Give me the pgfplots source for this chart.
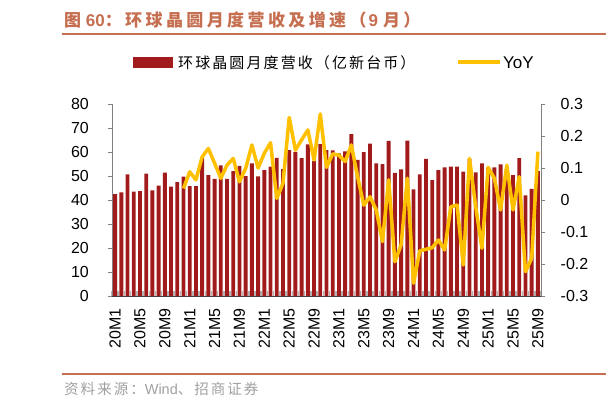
\documentclass[border=0pt]{standalone}
\usepackage{pgfplots}
\usepackage{pgfplotstable}
\pgfplotsset{compat=1.18}
\usepackage{fontspec}
\setmainfont{Liberation Sans}
\newfontfamily\cjk{Noto Sans CJK SC}
\newfontfamily\cjkt{Noto Sans CJK SC}[LetterSpace=20]
\newfontfamily\cjkl{Noto Sans CJK SC}[LetterSpace=14]
\definecolor{barred}{RGB}{162,27,28}
\definecolor{yoy}{RGB}{255,192,0}
\definecolor{titlec}{RGB}{197,110,80}
\definecolor{srcgray}{RGB}{160,160,160}

\pgfplotstableread{
x y
0 42.4
1 43.2
2 50.7
3 43.5
4 43.7
5 51.0
6 44.0
7 46.0
8 51.4
9 45.6
10 47.4
11 49.7
12 45.8
13 45.8
14 57.4
15 50.4
16 48.8
17 54.4
18 48.8
19 52.0
20 54.2
21 50.0
22 55.3
23 49.8
24 52.5
25 53.9
26 57.6
27 52.9
28 60.8
29 60.1
30 57.4
31 63.2
32 56.3
33 63.3
34 60.8
35 60.7
36 59.4
37 60.3
38 67.5
39 56.7
40 60.0
41 63.5
42 55.3
43 55.0
44 64.6
45 51.3
46 52.8
47 64.7
48 44.4
49 50.7
50 57.1
51 48.3
52 52.4
53 53.6
54 53.9
55 53.9
56 51.8
57 57.0
58 51.5
59 55.3
60 53.5
61 53.6
62 54.8
63 53.0
64 50.4
65 57.4
66 41.9
67 44.6
68 52.0
}\revtable

\pgfplotstableread{
x y
11 0.036
12 0.088
13 0.063
14 0.135
15 0.161
16 0.115
17 0.068
18 0.109
19 0.130
20 0.057
21 0.099
22 0.172
23 0.100
24 0.146
25 0.179
26 0.005
27 0.052
28 0.258
29 0.156
30 0.188
31 0.219
32 0.125
33 0.269
34 0.102
35 0.144
36 0.140
37 0.120
38 0.172
39 0.073
40 -0.016
41 0.010
42 -0.031
43 -0.130
44 0.063
45 -0.193
46 -0.140
47 0.068
48 -0.260
49 -0.159
50 -0.154
51 -0.149
52 -0.125
53 -0.156
54 -0.021
55 -0.016
56 -0.203
57 0.130
58 -0.021
59 -0.151
60 0.102
61 0.068
62 -0.031
63 0.109
64 -0.031
65 0.073
66 -0.224
67 -0.182
68 0.151
}\yoytable

\begin{document}
\begin{tikzpicture}[x=1pt,y=1pt]
\useasboundingbox (0,0) rectangle (606,-407);

% title
\node[anchor=west, inner sep=0pt, text=titlec] at (64,-20) {\bfseries\fontsize{17}{17}\selectfont {\cjkt 图} 60{\cjkt ：环球晶圆月度营收及增速（}\hspace{2pt}9\hspace{5pt}{\cjkt 月）}};
\draw[titlec, line width=2pt] (62,-34) -- (606,-34);

% legend
\fill[barred] (133,-57) rectangle (173,-68);
\node[anchor=west, inner sep=0pt] at (178,-62.5) {\cjkl\fontsize{15}{15}\selectfont 环球晶圆月度营收（亿新台币）};
\draw[yoy, line width=4pt] (458,-62.3) -- (500,-62.3);
\node[anchor=west, inner sep=0pt] at (503,-62.5) {\fontsize{17}{17}\selectfont YoY};

\begin{axis}[
  at={(112pt,-296pt)}, anchor=south west,
  scale only axis, width=429pt, height=192pt,
  xmin=-0.5, xmax=68.5, ymin=0, ymax=80,
  axis x line*=bottom, axis y line*=left,
  x axis line style={black!75, line width=0.8pt},
  y axis line style={gray, line width=0.8pt},
  xtick={0,4,...,68},
  xticklabels={20M1,20M5,20M9,21M1,21M5,21M9,22M1,22M5,22M9,23M1,23M5,23M9,24M1,24M5,24M9,25M1,25M5,25M9},
  minor xtick={-0.5,0.5,...,68.5},
  major x tick style={draw=none},
  minor x tick style={gray!60, line width=1.5pt},
  minor tick length=5pt,
  xtick align=inside,
  ytick align=outside,
  ytick={0,10,...,80},
  ytick style={gray, line width=0.8pt},
  major tick length=4pt,
  tick label style={font=\fontsize{16}{16}\selectfont},
  /pgf/number format/assume math mode=true,
  yticklabel style={anchor=east, inner sep=0pt, xshift=-19pt},
  xticklabel style={rotate=90, anchor=east, inner sep=0pt},
  xticklabel shift=12pt,
  clip=false,
]
\addplot[ybar, bar width=0.62, fill=barred, draw=none] table {\revtable};
\end{axis}

\begin{axis}[
  at={(112pt,-296pt)}, anchor=south west,
  scale only axis, width=429pt, height=192pt,
  xmin=-0.5, xmax=68.5, ymin=-0.3, ymax=0.3,
  axis x line=none, axis y line*=right,
  y axis line style={gray, line width=0.8pt},
  ytick={-0.3,-0.2,-0.1,0,0.1,0.2,0.3},
  ytick style={gray, line width=0.8pt},
  ytick align=outside,
  major tick length=4pt,
  tick label style={font=\fontsize{16}{16}\selectfont},
  /pgf/number format/assume math mode=true,
  /pgf/number format/fixed, /pgf/number format/precision=1,
  yticklabel style={anchor=west, inner sep=0pt, xshift=15.5pt},
  clip=false,
]
\addplot[yoy, line width=3.5pt, line join=round, mark=none] table {\yoytable};
\end{axis}

% source
\draw[titlec, line width=2pt] (62,-374) -- (606,-374);
\node[anchor=west, inner sep=0pt, text=srcgray] at (64,-389) {\fontsize{14.5}{14.5}\selectfont {\cjkl 资料来源：}Wind{\cjkl 、招商证券}};
\end{tikzpicture}
\end{document}
